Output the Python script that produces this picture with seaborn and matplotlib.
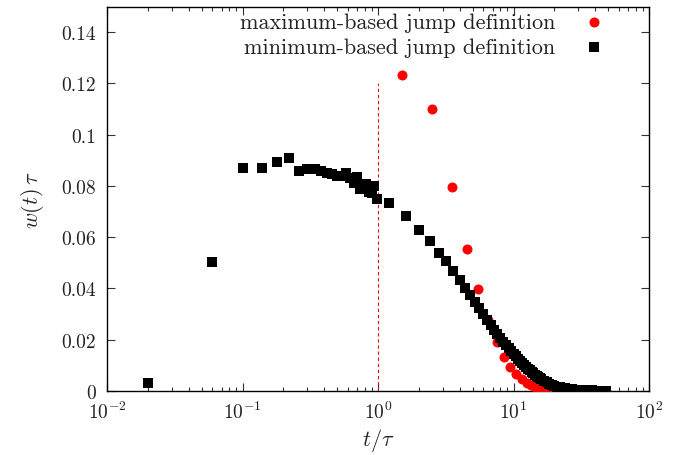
import numpy as np
import matplotlib
matplotlib.use("Agg")
import matplotlib.pyplot as plt
import seaborn as sns
from matplotlib.ticker import FixedLocator, FuncFormatter, LogLocator, NullFormatter

# minimum-based jump definition (black squares)
min_t = [0.02, 0.06, 0.10, 0.14, 0.18, 0.22, 0.26, 0.30, 0.34, 0.38, 0.42, 0.46,
         0.50, 0.54, 0.58, 0.62, 0.66, 0.70, 0.74, 0.78, 0.82, 0.86, 0.90, 0.94, 0.98,
         1.2, 1.6, 2.0, 2.4, 2.8, 3.2, 3.6, 4.0, 4.4, 4.8, 5.2, 5.6, 6.0, 6.4, 6.8,
         7.2, 7.6, 8.0, 8.4, 8.8, 9.2, 9.6, 10.0, 10.4, 10.8, 11.2, 11.6, 12.0, 12.4,
         12.8, 13.2, 13.6, 14.0, 14.4, 14.8, 15.2, 15.6, 16.0, 16.8, 17.6, 18.4, 19.2,
         20, 21, 22, 23, 24, 25, 26, 27, 28, 29, 30, 31, 32, 33, 34, 35, 36, 37, 38,
         39, 40, 41, 42, 43, 44, 45, 46, 47, 48]
min_w = [0.0030, 0.0502, 0.0870, 0.0870, 0.0893, 0.0908, 0.0857, 0.0866, 0.0868,
         0.0858, 0.0850, 0.0846, 0.0840, 0.0838, 0.0850, 0.0830, 0.0812, 0.0835,
         0.0788, 0.0805, 0.0808, 0.0778, 0.0772, 0.0800, 0.0750,
         0.0735, 0.0681, 0.0630, 0.0587, 0.0540, 0.0506, 0.0467, 0.0433, 0.0400,
         0.0376, 0.0349, 0.0323, 0.0299, 0.0277, 0.0257, 0.0239, 0.0222, 0.0207,
         0.0193, 0.0180, 0.0168, 0.0157, 0.0146, 0.0136, 0.0126, 0.0117, 0.0109,
         0.0101, 0.0094, 0.0087, 0.0081, 0.0075, 0.0069, 0.0064, 0.0059, 0.0055,
         0.0051, 0.0047, 0.0040, 0.0034, 0.0029, 0.0025, 0.0021, 0.0017, 0.0014,
         0.0012, 0.0010, 0.0008, 0.0007, 0.0006, 0.0005, 0.0004, 0.0004, 0.0003,
         0.0003, 0.0003, 0.0002, 0.0002, 0.0002, 0.0002, 0.0002, 0.0001, 0.0001,
         0.0001, 0.0001, 0.0001, 0.0001, 0.0001, 0.0001, 0.0001, 0.0001]

# maximum-based jump definition (red circles)
max_t = [1.5, 2.5, 3.5, 4.5, 5.5, 6.5, 7.5, 8.5, 9.5, 10.5, 11.5, 12.5, 13.5, 14.5,
         15.5, 16.5, 17.5, 18.5, 19.5, 20.5, 21.5, 22.5, 23.5, 24.5, 25.5, 26.5,
         27.5, 28.5, 29.5, 30.5, 31.5, 32.5, 33.5, 34.5, 35.5, 36.5, 37.5, 38.5,
         39.5, 40.5, 41.5, 42.5, 43.5, 44.5, 45.5, 46.5, 47.5, 48.5]
max_w = [0.1232, 0.1100, 0.0795, 0.0554, 0.0398, 0.0278, 0.0190, 0.0134, 0.0093,
         0.0065, 0.0046, 0.0033, 0.0024, 0.0017, 0.0012, 0.0009, 0.0007, 0.0005,
         0.0004, 0.0003, 0.0002, 0.0002, 0.0001, 0.0001, 0.0, 0.0, 0.0, 0.0, 0.0,
         0.0, 0.0, 0.0, 0.0, 0.0, 0.0, 0.0, 0.0, 0.0, 0.0, 0.0, 0.0, 0.0, 0.0, 0.0,
         0.0, 0.0, 0.0, 0.0]

LINE_T   = 1.0
LINE_TOP = 0.12

y_ticks = [0, 0.02, 0.04, 0.06, 0.08, 0.1, 0.12, 0.14]

sns.set_style("ticks")
plt.rcParams["font.family"] = ["cmr10", "DejaVu Serif"]
plt.rcParams["mathtext.fontset"] = "cm"
plt.rcParams["axes.formatter.use_mathtext"] = True
plt.rcParams["axes.unicode_minus"] = False

fig = plt.figure(figsize=(6.77, 4.56), dpi=100)
ax = fig.add_axes([107 / 677, 64 / 456, 542 / 677, 384.5 / 456])

sns.scatterplot(x=max_t, y=max_w, ax=ax, color="#ff0000", marker="o", s=52,
                linewidth=0, label="maximum-based jump definition", zorder=3)
sns.scatterplot(x=min_t, y=min_w, ax=ax, color="black", marker="s", s=44,
                linewidth=0, label="minimum-based jump definition", zorder=4)
ax.vlines(LINE_T, 0, LINE_TOP, colors="#ff0000", linestyles=(0, (3, 2.5)), lw=0.8, zorder=2)

ax.set_xscale("log")
ax.set_xlim(1e-2, 1e2)
ax.set_ylim(0, 0.15)
ax.yaxis.set_major_locator(FixedLocator(y_ticks))
ax.yaxis.set_major_formatter(FuncFormatter(lambda v, p: f"{v:g}"))
ax.xaxis.set_major_locator(LogLocator(base=10, numticks=10))
ax.xaxis.set_minor_locator(LogLocator(base=10, subs=np.arange(2, 10), numticks=10))
ax.xaxis.set_minor_formatter(NullFormatter())

ax.tick_params(which="both", direction="in", top=True, right=True, color="#333333",
               labelsize=14, labelcolor="#222222", width=0.8)
ax.tick_params(axis="y", pad=8)
ax.tick_params(axis="x", pad=7)
ax.tick_params(which="major", length=6)
ax.tick_params(which="minor", length=3)
for sp in ax.spines.values():
    sp.set_linewidth(1.0)
    sp.set_color("black")

ax.set_xlabel(r"$t/\tau$", fontsize=16, labelpad=3)
ax.set_ylabel(r"$w(t)\,\tau$", fontsize=16, labelpad=11)

leg = ax.legend(loc="upper right", bbox_to_anchor=(0.927, 0.997), borderaxespad=0,
                borderpad=0.2, frameon=False, markerfirst=False, handlelength=1.0,
                handletextpad=1.23, fontsize=16, labelspacing=0.25)
for t in leg.get_texts():
    t.set_color("#222222")

fig.savefig("out.png", dpi=100)
